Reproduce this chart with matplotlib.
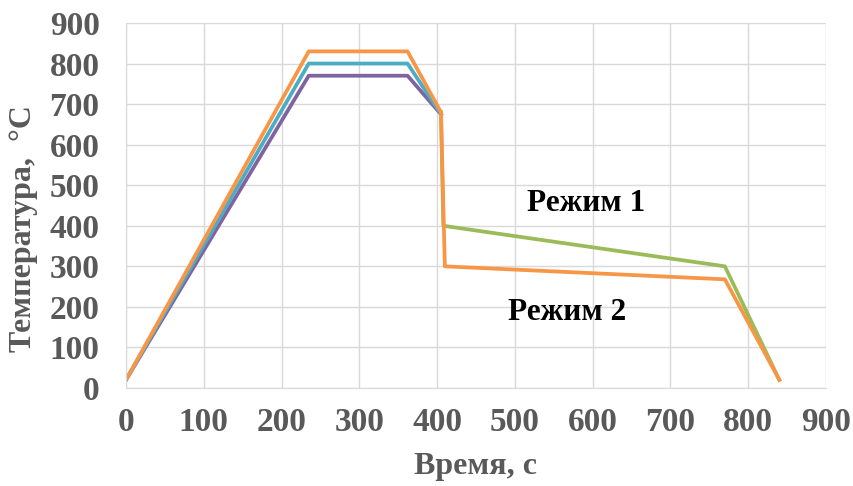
import matplotlib
matplotlib.use("Agg")
import matplotlib.pyplot as plt

# время, с и температура, °C
t_770 = [0, 235, 362, 405]
T_770 = [20, 770, 770, 675]
t_800 = [0, 235, 362, 405]
T_800 = [20, 800, 800, 675]
t_rej1 = [405, 408, 770, 840]
T_rej1 = [680, 400, 300, 20]
t_830 = [0, 235, 362, 405, 410, 770, 840]
T_830 = [20, 830, 830, 680, 300, 268, 20]

xticks = [0, 100, 200, 300, 400, 500, 600, 700, 800, 900]
yticks = [0, 100, 200, 300, 400, 500, 600, 700, 800, 900]

plt.rcParams['font.family'] = ['Liberation Serif', 'DejaVu Serif']
plt.rcParams['font.weight'] = 'bold'

fig = plt.figure(figsize=(8.54, 4.86), dpi=100)
ax = fig.add_axes([0.1475, 0.2016, 0.8197, 0.7511])

lw = 2.7
ax.plot(t_770, T_770, color='#8064A2', lw=lw)
ax.plot(t_800, T_800, color='#4BACC6', lw=lw)
ax.plot(t_rej1, T_rej1, color='#9BBB59', lw=lw)
ax.plot(t_830, T_830, color='#F79646', lw=lw)

ax.text(591, 456, 'Режим 1', fontsize=22.5, fontweight='bold', ha='center', va='center')
ax.text(567, 187, 'Режим 2', fontsize=22.5, fontweight='bold', ha='center', va='center')

ax.set_xlim(0, 900)
ax.set_ylim(0, 900)
ax.set_xticks(xticks)
ax.set_yticks(yticks)
ax.grid(True, color='#D9D9D9', lw=1)
ax.set_axisbelow(True)
for s in ['top', 'right']:
    ax.spines[s].set_visible(False)
for s in ['left', 'bottom']:
    ax.spines[s].set_color('#D9D9D9')
ax.tick_params(length=0, labelsize=24, colors='#595959')
ax.tick_params(axis='x', pad=14)
ax.tick_params(axis='y', pad=19)
for lab in ax.get_xticklabels() + ax.get_yticklabels():
    lab.set_fontweight('bold')

ax.set_xlabel('Время, с', fontsize=23, fontweight='bold', color='#595959')
ax.set_ylabel('Температура,  °С', fontsize=23, fontweight='bold', color='#595959')
ax.xaxis.set_label_coords(0.499, -0.175)
ax.yaxis.set_label_coords(-0.126, 0.438)

fig.savefig('out.png', dpi=100)
